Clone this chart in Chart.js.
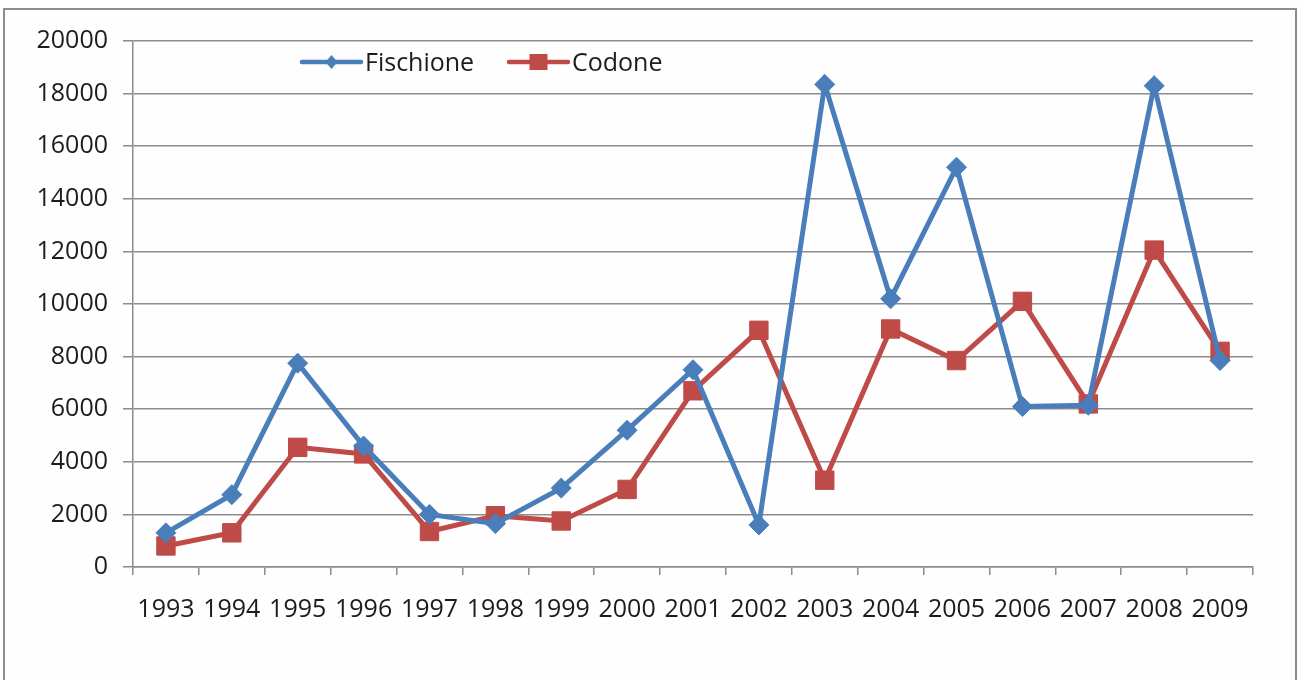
<!DOCTYPE html>
<html>
<head>
<meta charset="utf-8">
<title>Fischione / Codone</title>
<script src="https://cdn.jsdelivr.net/npm/chart.js@4.4.1/dist/chart.umd.min.js"></script>
<style>
  body { margin: 0; background: #fff; }
  #wrap { position: relative; width: 1299px; height: 680px; overflow: hidden; background: #fefefe; }
  #frame { position: absolute; left: 3px; top: 8px; width: 1290px; height: 720px; border: 2px solid #8c8c8c; }
  #myChart { position: absolute; left: 0; top: 0; }
</style>
</head>
<body>
<div id="wrap">
  <div id="frame"></div>
  <canvas id="myChart" width="1299" height="680"></canvas>
</div>
<script>
const years = ['1993', '1994', '1995', '1996', '1997', '1998', '1999', '2000', '2001',
               '2002', '2003', '2004', '2005', '2006', '2007', '2008', '2009'];
const fischione = [1300, 2750, 7750, 4600, 2000, 1650, 3000, 5200, 7500,
                   1600, 18350, 10200, 15200, 6100, 6150, 18300, 7850];
const codone = [800, 1300, 4550, 4300, 1350, 1950, 1750, 2950, 6700,
                9000, 3300, 9050, 7850, 10100, 6200, 12050, 8200];

const BLUE = '#4a7ebb';
const RED = '#be4b48';
const GRID = '#8c8c8c';
const FONT = "'Open Sans', sans-serif";

// legend drawn inside the plot, line + marker like the original
const lineLegend = {
  id: 'lineLegend',
  afterDraw(chart) {
    const ctx = chart.ctx;
    const y = 62;
    const starts = [302, 509];
    ctx.save();
    chart.data.datasets.forEach((ds, i) => {
      const x0 = starts[i];
      ctx.strokeStyle = ds.borderColor;
      ctx.lineWidth = 4.5;
      ctx.lineCap = 'round';
      ctx.beginPath();
      ctx.moveTo(x0, y);
      ctx.lineTo(x0 + 59, y);
      ctx.stroke();
      ctx.fillStyle = ds.borderColor;
      const cx = x0 + 29.5;
      if (ds.pointStyle === 'rectRot') {
        ctx.beginPath();
        ctx.moveTo(cx - 6, y);
        ctx.lineTo(cx, y - 7);
        ctx.lineTo(cx + 6, y);
        ctx.lineTo(cx, y + 7);
        ctx.closePath();
        ctx.fill();
      } else {
        ctx.fillRect(cx - 9, y - 8, 18, 16);
      }
      ctx.fillStyle = '#1c1c1c';
      ctx.font = '25px ' + FONT;
      ctx.textBaseline = 'alphabetic';
      ctx.fillText(ds.label, x0 + 63, 71);
    });
    ctx.restore();
  }
};

const ctx = document.getElementById('myChart').getContext('2d');
const myChart = new Chart(ctx, {
  type: 'line',
  data: {
    labels: years,
    datasets: [
      {
        label: 'Fischione',
        data: fischione,
        borderColor: BLUE,
        backgroundColor: BLUE,
        borderWidth: 5,
        pointStyle: 'rectRot',
        pointRadius: 10,
        pointBorderWidth: 1,
        pointBackgroundColor: BLUE,
        pointBorderColor: BLUE,
        tension: 0
      },
      {
        label: 'Codone',
        data: codone,
        borderColor: RED,
        backgroundColor: RED,
        borderWidth: 5,
        pointStyle: 'rect',
        pointRadius: 13,
        pointBorderWidth: 1,
        pointBackgroundColor: RED,
        pointBorderColor: RED,
        tension: 0
      }
    ]
  },
  options: {
    responsive: false,
    animation: false,
    layout: { padding: { top: 41, right: 46, bottom: 0, left: 0 } },
    plugins: {
      legend: { display: false },
      tooltip: { enabled: false }
    },
    scales: {
      x: {
        offset: true,
        grid: {
          offset: true,
          drawOnChartArea: false,
          drawTicks: true,
          tickLength: 8,
          color: GRID,
          lineWidth: 1.5
        },
        border: { color: GRID, width: 1.5 },
        ticks: {
          color: '#1c1c1c',
          font: { family: FONT, size: 25 },
          padding: 20,
          maxRotation: 0,
          autoSkip: false
        },
        afterFit(scale) { scale.height = 113; }
      },
      y: {
        min: 0,
        max: 20000,
        grid: {
          color: GRID,
          lineWidth: 1.5,
          tickLength: 10
        },
        border: { color: GRID, width: 1.5 },
        ticks: {
          stepSize: 2000,
          color: '#1c1c1c',
          font: { family: FONT, size: 25 },
          padding: 15,
          callback: (value) => String(value)
        },
        afterFit(scale) { scale.width = 133; }
      }
    }
  },
  plugins: [lineLegend]
});
</script>
</body>
</html>
